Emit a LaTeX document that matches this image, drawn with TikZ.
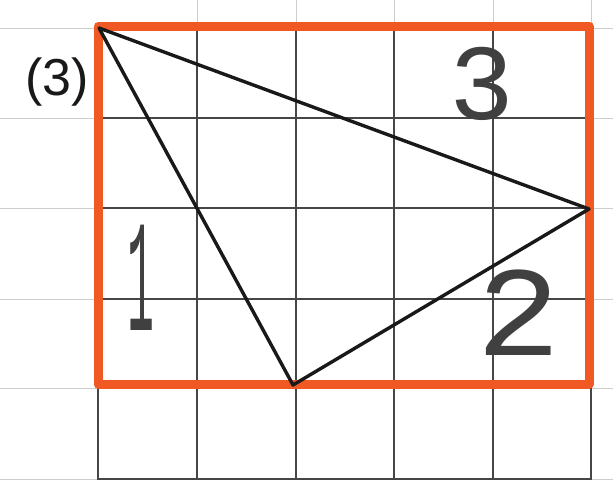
\documentclass[tikz,border=0pt]{standalone}
\usepackage{fontspec}
\setmainfont{Liberation Sans}
\newfontfamily\handfont{Liberation Mono}
\definecolor{markerorange}{RGB}{240,88,36}
\definecolor{gridgray}{RGB}{70,70,70}
\definecolor{faintgray}{RGB}{205,205,205}
\begin{document}
\begin{tikzpicture}[x=0.5pt,y=-0.5pt,
  faintline/.style={draw=faintgray,line width=0.5pt},
  gridline/.style={draw=gridgray,line width=0.8pt},
  marker/.style={draw=markerorange,line width=4.5pt,line join=round,line cap=round},
  edge/.style={draw=black!90,line width=1.7pt,line join=round},
  hand/.style={inner sep=0pt,text=black!75}]
\useasboundingbox (0,0) rectangle (613,482);
\fill[white] (0,0) rectangle (613,482);
% faint paper grid outside the frame
\foreach \y in {28,118,208,299,388,479} {
  \draw[faintline] (0,\y) -- (98,\y);
  \draw[faintline] (591,\y) -- (613,\y);
}
\foreach \x in {197,296,394,493,591} {
  \draw[faintline] (\x,0) -- (\x,28);
}
% main grid
\foreach \x in {98,197,296,394,493,591} {
  \draw[gridline] (\x,28) -- (\x,480);
}
\foreach \y in {28,118,208,299,388,479} {
  \draw[gridline] (98,\y) -- (591,\y);
}
% orange frame
\draw[marker] (98,26) rectangle (589,384);
% triangle
\coordinate (A) at (99,28);
\coordinate (B) at (293,385);
\coordinate (C) at (589,209);
\draw[edge] (A) -- (B) -- (C) -- cycle;
% labels
\node[inner sep=0pt,text=black!90] (lab) at (57,82) {\fontsize{26pt}{30pt}\selectfont (3)};
\node[hand] (n3) at (482,84) {\handfont\fontsize{54pt}{60pt}\selectfont 3};
\node[hand,xscale=1.1] (n2) at (519,313) {\handfont\fontsize{64pt}{70pt}\selectfont 2};
\node[hand,xscale=0.28] (n1) at (141,278) {\handfont\fontsize{80pt}{86pt}\selectfont 1};
\end{tikzpicture}
\end{document}
